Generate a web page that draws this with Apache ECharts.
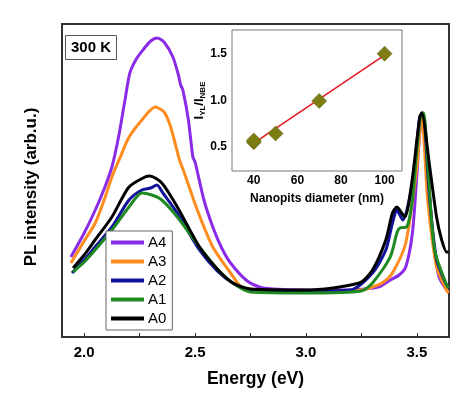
<!DOCTYPE html>
<html><head><meta charset="utf-8">
<script src="https://cdn.jsdelivr.net/npm/echarts@6/dist/echarts.min.js"></script>
<style>html,body{margin:0;padding:0;background:#fff}#c{width:474px;height:398px}</style>
</head><body><div id="c"></div>
<script>
// Main PL spectra: [energy (eV), intensity (arb.u.)]
const seriesNames = ['A4','A3','A2','A1','A0'];
const a4 = [[1.94,80],[2.00,104],[2.05,127],[2.09,148],[2.125,170],[2.155,200],[2.184,237],[2.206,264],[2.235,278],[2.265,287],[2.30,296],[2.33,299],[2.36,295],[2.40,280],[2.425,262],[2.435,252],[2.445,247],[2.47,217],[2.49,180],[2.50,175],[2.54,137],[2.58,110],[2.62,89],[2.66,74],[2.73,57],[2.79,50],[2.85,48],[3.0,47],[3.2,47],[3.30,49],[3.33,50],[3.38,57],[3.42,62],[3.45,70],[3.48,104],[3.50,162],[3.513,204],[3.526,224],[3.54,202],[3.549,170],[3.571,104],[3.60,60],[3.634,47],[3.643,45]];
const a3 = [[1.94,74],[2.00,96],[2.05,114],[2.09,137],[2.125,160],[2.165,181],[2.20,199],[2.26,217],[2.32,230],[2.36,225],[2.39,210],[2.43,177],[2.45,165],[2.51,127],[2.58,90],[2.66,64],[2.71,50],[2.80,47],[3.0,46],[3.25,47],[3.30,50],[3.35,55],[3.39,64],[3.45,94],[3.50,170],[3.522,224],[3.535,187],[3.549,137],[3.589,70],[3.634,47],[3.643,44]];
const a2 = [[1.945,64],[2.00,77],[2.049,90],[2.125,110],[2.202,137],[2.26,147],[2.30,149],[2.328,152],[2.355,144],[2.42,124],[2.52,87],[2.60,66],[2.67,54],[2.75,47],[3.0,46],[3.20,47],[3.30,64],[3.36,87],[3.39,114],[3.41,127],[3.436,117],[3.48,154],[3.513,220],[3.526,224],[3.558,137],[3.589,77],[3.634,52],[3.643,50]];
const a1 = [[1.95,65],[2.00,75],[2.049,87],[2.125,107],[2.202,130],[2.26,144],[2.305,142],[2.35,137],[2.42,120],[2.52,90],[2.60,68],[2.67,54],[2.75,45],[3.0,44],[3.25,46],[3.30,54],[3.38,80],[3.41,104],[3.423,109],[3.454,110],[3.48,137],[3.50,187],[3.522,224],[3.531,224],[3.55,170],[3.58,87],[3.634,52],[3.643,49]];
const a0 = [[1.95,69],[2.00,82],[2.049,97],[2.125,120],[2.202,150],[2.274,160],[2.296,161],[2.35,154],[2.42,130],[2.52,90],[2.60,68],[2.67,54],[2.75,48],[3.0,47],[3.24,54],[3.30,67],[3.36,97],[3.39,124],[3.41,130],[3.445,120],[3.477,154],[3.513,220],[3.522,224],[3.558,170],[3.589,120],[3.612,97],[3.634,85],[3.643,85]];
const energyLabels = [2.0, 2.5, 3.0, 3.5];
const energyTicks = [2.0, 2.25, 2.5, 2.75, 3.0, 3.25, 3.5];
// Inset: ratio vs nanopit diameter
const diameter = [40, 40, 50, 70, 100];
const ratio = [0.55, 0.57, 0.645, 0.995, 1.505];
const fitX = [40, 100];
const fitY = [0.54, 1.49];
const insetXLabels = [40, 60, 80, 100];
const insetXTicks = [40, 50, 60, 70, 80, 90, 100];
const insetYLabels = [0.5, 1.0, 1.5];
const insetYTicks = [0.5, 0.75, 1.0, 1.25, 1.5];

const colors = {A4:'#8a2be8', A3:'#ff8c1e', A2:'#12129a', A1:'#1f8a22', A0:'#000000'};
const dataMap = {A4:a4, A3:a3, A2:a2, A1:a1, A0:a0};
const F = 'Liberation Sans, Arial, sans-serif';

const chart = echarts.init(document.getElementById('c'), null, {renderer:'canvas'});
const drawOrder = ['A4','A3','A2','A1','A0'];
const mainSeries = drawOrder.map(n => ({
  name: n, type: 'line', xAxisIndex: 0, yAxisIndex: 0,
  data: dataMap[n], showSymbol: false, smooth: 0.25,
  lineStyle: {color: colors[n], width: 3}, itemStyle: {color: colors[n]},
  z: 2
}));

chart.setOption({
  animation: false,
  backgroundColor: '#fff',
  grid: [
    {left: 62, right: 25, top: 24, bottom: 61, show: true, borderColor: '#333', borderWidth: 2, backgroundColor: 'transparent'},
    {left: 232, right: 72, top: 30, bottom: 227, show: true, borderColor: '#777', borderWidth: 1, backgroundColor: '#fff', z: 5}
  ],
  legend: [
    {
      data: seriesNames, orient: 'vertical', left: 106, top: 231,
      itemWidth: 33, itemHeight: 4, itemGap: 4, icon: 'rect',
      borderColor: '#666', borderWidth: 1, padding: [4, 6, 4, 5],
      textStyle: {fontFamily: F, fontSize: 15, color: '#000', lineHeight: 14, padding: [0,0,0,-1]},
      backgroundColor: '#fff'
    },
    {
      data: [{name:'Exp.', icon:'diamond'}, {name:'Linear Fit'}], orient: 'vertical', left: 256, top: 42,
      itemWidth: 14, itemHeight: 10, itemGap: 1,
      textStyle: {fontFamily: F, fontSize: 10, fontWeight: 'bold', color: '#000'}
    }
  ],
  xAxis: [
    {
      type: 'value', gridIndex: 0, min: 1.9, max: 3.645,
      name: 'Energy (eV)', nameLocation: 'middle', nameGap: 33,
      nameTextStyle: {fontFamily: F, fontSize: 17.5, fontWeight: 'bold', color: '#000'},
      axisLine: {show: false}, splitLine: {show: false},
      axisTick: {show: true, inside: true, length: 4, lineStyle: {color: '#333'}, customValues: energyTicks},
      axisLabel: {fontFamily: F, fontSize: 15, fontWeight: 'bold', color: '#000', margin: 8, customValues: energyLabels, formatter: v => v.toFixed(1)}
    },
    {
      type: 'value', gridIndex: 1, min: 30, max: 108,
      name: 'Nanopits diameter (nm)', nameLocation: 'middle', nameGap: 22,
      nameTextStyle: {fontFamily: F, fontSize: 12, fontWeight: 'bold', color: '#000'},
      axisLine: {show: false}, splitLine: {show: false},
      axisTick: {show: true, inside: true, length: 3, lineStyle: {color: '#777'}, customValues: insetXTicks},
      axisLabel: {fontFamily: F, fontSize: 12, fontWeight: 'bold', color: '#000', margin: 4, customValues: insetXLabels}
    }
  ],
  yAxis: [
    {
      type: 'value', gridIndex: 0, min: 0, max: 313,
      axisLine: {show: false}, axisTick: {show: false}, axisLabel: {show: false}, splitLine: {show: false}
    },
    {
      type: 'value', gridIndex: 1, min: 0.24, max: 1.76,
      name: '{a|I}{s|YL}{a|/I}{s|NBE}', nameLocation: 'middle', nameGap: 18,
      nameTextStyle: {rich: {
        a: {fontFamily: F, fontSize: 13, fontWeight: 'bold', color: '#000'},
        s: {fontFamily: F, fontSize: 8, fontWeight: 'bold', color: '#000', verticalAlign: 'bottom', padding: [6,0,0,0]}
      }},
      axisLine: {show: false}, splitLine: {show: false},
      axisTick: {show: true, inside: true, length: 3, lineStyle: {color: '#777'}, customValues: insetYTicks},
      axisLabel: {fontFamily: F, fontSize: 12, fontWeight: 'bold', color: '#000', margin: 5, customValues: insetYLabels, formatter: v => v.toFixed(1)}
    }
  ],
  series: mainSeries.concat([
    {
      name: 'Linear Fit', type: 'line', xAxisIndex: 1, yAxisIndex: 1,
      data: fitX.map((x, i) => [x, fitY[i]]), showSymbol: false,
      lineStyle: {color: '#e8141e', width: 1.5}, itemStyle: {color: '#e8141e'}, z: 10
    },
    {
      name: 'Exp.', type: 'scatter', xAxisIndex: 1, yAxisIndex: 1,
      data: diameter.map((x, i) => [x, ratio[i]]), symbol: 'diamond', symbolSize: 15,
      itemStyle: {color: '#7e7d14', borderColor: '#5e5d0c', borderWidth: 0.5, opacity: 1}, z: 11
    }
  ]),
  graphic: [
    {type: 'text', x: 31, y: 187, rotation: Math.PI / 2, z: 100,
      style: {text: 'PL intensity (arb.u.)', fontFamily: F, fontSize: 17, fontWeight: 'bold', fill: '#000', align: 'center', verticalAlign: 'middle'}},
    {type: 'group', left: 65, top: 35, z: 100, children: [
      {type: 'rect', shape: {x: 0, y: 0, width: 51, height: 24}, style: {fill: '#fff', stroke: '#555', lineWidth: 1}},
      {type: 'text', x: 25.5, y: 12, style: {text: '300 K', fontFamily: F, fontSize: 15, fontWeight: 'bold', fill: '#000', align: 'center', verticalAlign: 'middle'}}
    ]}
  ]
});
</script></body></html>
